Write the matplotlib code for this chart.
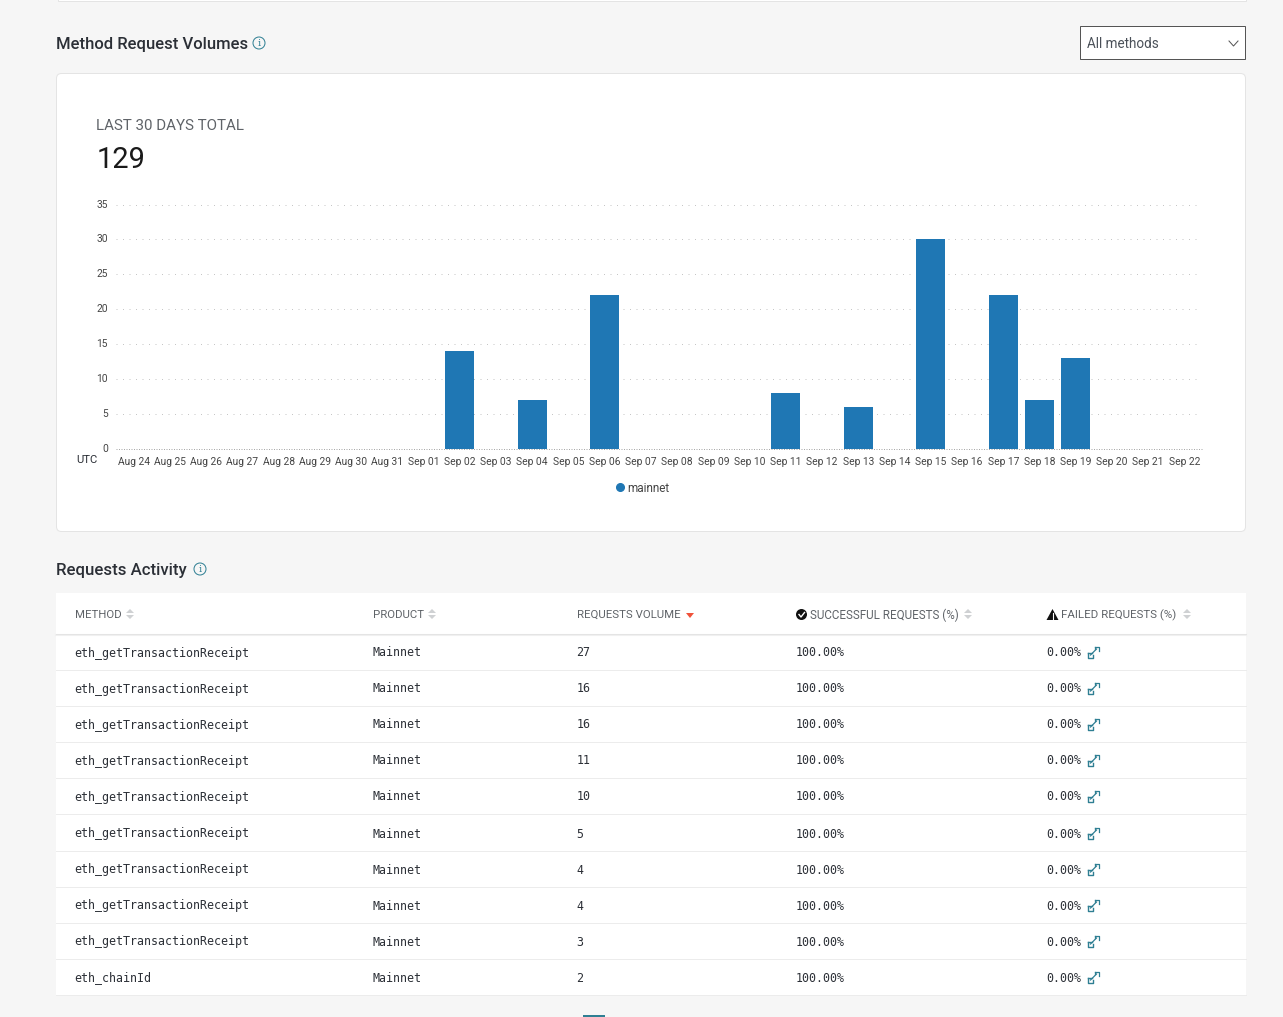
import matplotlib
matplotlib.use('Agg')
import matplotlib.pyplot as plt
from matplotlib.patches import Rectangle, FancyBboxPatch, Circle, Polygon
from matplotlib.lines import Line2D
from matplotlib.transforms import ScaledTranslation

W, H = 1283, 1017

# chart data
days = ['Aug 24', 'Aug 25', 'Aug 26', 'Aug 27', 'Aug 28', 'Aug 29', 'Aug 30', 'Aug 31',
        'Sep 01', 'Sep 02', 'Sep 03', 'Sep 04', 'Sep 05', 'Sep 06', 'Sep 07', 'Sep 08',
        'Sep 09', 'Sep 10', 'Sep 11', 'Sep 12', 'Sep 13', 'Sep 14', 'Sep 15', 'Sep 16',
        'Sep 17', 'Sep 18', 'Sep 19', 'Sep 20', 'Sep 21', 'Sep 22']
mainnet = [0, 0, 0, 0, 0, 0, 0, 0, 0, 14, 0, 7, 0, 22, 0, 0, 0, 0, 8, 0, 6, 0, 30, 0, 22, 7, 13, 0, 0, 0]
y_ticks = [0, 5, 10, 15, 20, 25, 30, 35]

# table data
methods = ['eth_getTransactionReceipt'] * 9 + ['eth_chainId']
products = ['Mainnet'] * 10
volumes = [27, 16, 16, 11, 10, 5, 4, 4, 3, 2]
success = ['100.00%'] * 10
failed = ['0.00%'] * 10
row_y = [653, 689, 725, 761, 797, 834, 870, 906, 942, 978]

SANS = 'Roboto'
MONO = 'DejaVu Sans Mono'
DARK = '#2b2f36'
GREY = '#5f6368'
TEAL = '#2f7f93'
BLUE = '#1f77b4'
LW = 0.72  # one pixel


def px(size):
    return size * 0.72


fig = plt.figure(figsize=(W / 100, H / 100), dpi=100, facecolor='#f6f6f6')

# page layer, in pixels
bg = fig.add_axes([0, 0, 1, 1], zorder=0)
bg.set_xlim(0, W)
bg.set_ylim(H, 0)
bg.axis('off')


def info_icon(x, y):
    bg.add_patch(Circle((x, y), 6, fc='none', ec=TEAL, lw=LW))
    bg.text(x, y + 0.3, 'i', color=TEAL, fontsize=px(10), family='DejaVu Serif', ha='center', va='center')


def sort_icon(x, y):
    bg.add_patch(Polygon([(x - 4, y - 1), (x + 4, y - 1), (x, y - 5)], fc='#cfd1d3', ec='none'))
    bg.add_patch(Polygon([(x - 4, y + 1), (x + 4, y + 1), (x, y + 5)], fc='#cfd1d3', ec='none'))


def expand_icon(x, y):
    bg.plot([x - 3, x + 3], [y + 3, y - 3], color=TEAL, lw=0.9)
    bg.plot([x - 5.5, x - 5.5, x - 1, x - 1], [y + 1, y + 5.5, y + 5.5, y + 3], color=TEAL, lw=1)
    bg.plot([x - 5.5, x - 2], [y + 1, y + 1], color=TEAL, lw=1)
    bg.plot([x + 1, x + 5.5, x + 5.5], [y - 5.5, y - 5.5, y - 1], color=TEAL, lw=0.9)
    bg.plot([x + 1, x + 1], [y - 5.5, y - 3], color=TEAL, lw=0.9)


# strip at the very top
bg.add_patch(Rectangle((58, -3), 1188, 3.5, fc='#ffffff', ec='#e4e4e4', lw=LW))

# headings
bg.text(56, 44, 'Method Request Volumes', fontsize=px(16.6), family=SANS, weight='medium', color=DARK, va='center')
info_icon(259, 43)
bg.text(56, 570, 'Requests Activity', fontsize=px(16.8), family=SANS, weight='medium', color=DARK, va='center')
info_icon(200, 569)

# dropdown
bg.add_patch(Rectangle((1080, 26), 165, 33, fc='white', ec='#555555', lw=LW))
bg.text(1087, 43.5, 'All methods', fontsize=px(13.5), family=SANS, color='#4a5058', va='center')
bg.plot([1229, 1233.5, 1238], [41, 46, 41], color='#555555', lw=LW)

# chart card
bg.add_patch(FancyBboxPatch((56.5, 73.5), 1189, 458, boxstyle='round,pad=0,rounding_size=5',
                            fc='white', ec='#e4e4e4', lw=LW))
bg.text(96, 126, 'LAST 30 DAYS TOTAL', fontsize=px(15.1), family=SANS, color=GREY, va='center')
bg.text(96.7, 160, '129', fontsize=px(29), family=SANS, color='#1a1a1a', va='center')
bg.text(76, 460, 'UTC', fontsize=px(11.3), family=SANS, color=DARK, va='center')

# table body
bg.add_patch(Rectangle((56, 593), 1190, 402.5, fc='white', ec='none'))
bg.plot([56, 1246], [635, 635], color='#f0f0f0', lw=1.5)
bg.plot([56, 1246], [633.7, 633.7], color='#e4e4e4', lw=LW)
for sep in [669.5, 706, 742, 778, 814, 850.5, 886.5, 922.5, 959, 995]:
    bg.plot([56, 1246], [sep, sep], color='#ececec', lw=LW)

# table header
head_y = 615
for x, label in [(75, 'METHOD'), (373, 'PRODUCT'), (577, 'REQUESTS VOLUME')]:
    bg.text(x, head_y, label, fontsize=px(11.4), family=SANS, color=GREY, va='center')
bg.text(810, head_y, 'SUCCESSFUL REQUESTS (%)', fontsize=px(11.6), family=SANS, color=GREY, va='center')
bg.text(1061, head_y, 'FAILED REQUESTS (%)', fontsize=px(11.5), family=SANS, color=GREY, va='center')
sort_icon(130, 614)
sort_icon(432, 614)
sort_icon(968, 614)
sort_icon(1187, 614)
bg.add_patch(Polygon([(686, 613), (694, 613), (690, 618)], fc='#f0523a', ec='none'))
bg.add_patch(Circle((801.5, 614.5), 5.5, fc='#111111', ec='none'))
bg.plot([799, 801, 804.5], [614.5, 617, 612.5], color='white', lw=1)
bg.add_patch(Polygon([(1046.5, 620), (1058.5, 620), (1052.5, 609)], fc='#111111', ec='none'))
bg.plot([1052.5, 1052.5], [613, 616.5], color='white', lw=0.8)
bg.plot([1052.5, 1052.5], [617.5, 618.5], color='white', lw=0.8)

# table rows
for i, y in enumerate(row_y):
    bg.text(74.5, y, methods[i], fontsize=px(11.6), family=MONO, color=DARK, va='center')
    bg.text(372.5, y, products[i], fontsize=px(11.6), family=MONO, color=DARK, va='center')
    bg.text(576.5, y, str(volumes[i]), fontsize=px(11.6), family=MONO, color=DARK, va='center')
    bg.text(795.5, y, success[i], fontsize=px(11.6), family=MONO, color=DARK, va='center')
    bg.text(1046.5, y, failed[i], fontsize=px(11.6), family=MONO, color=DARK, va='center')
    expand_icon(1093.5, y - 1)

# bit of the pager under the table
bg.add_patch(Rectangle((583, 1015), 22, 3, fc=TEAL, ec='none'))

# bar chart
left, right, top, bottom = 115.5, 1202.5, 204.6, 448.5
ax = fig.add_axes([left / W, 1 - bottom / H, (right - left) / W, (bottom - top) / H], zorder=1)
ax.patch.set_alpha(0)
pos = list(range(len(days)))
ax.bar(pos, mainnet, width=0.8, color=BLUE, zorder=2, label='mainnet')
ax.set_xlim(-0.5, len(days) - 0.5)
ax.set_ylim(0, 35)
ax.set_yticks(y_ticks)
ax.set_xticks(pos)
ax.set_xticklabels(days)
ax.tick_params(axis='both', length=0, labelsize=px(10.3), labelcolor='#444444')
ax.tick_params(axis='x', pad=6.2)
ax.tick_params(axis='y', pad=5.4)
for lab in ax.get_xticklabels() + ax.get_yticklabels():
    lab.set_family(SANS)
up = ScaledTranslation(0, 1 / 100, fig.dpi_scale_trans)
for lab in ax.get_yticklabels():
    lab.set_transform(lab.get_transform() + up)
ax.hlines(y_ticks[1:], -0.5, 29.4, color='#c6c6c6', linestyle=(0, (1, 5.5)), linewidth=LW, zorder=0)
ax.hlines(0, -0.5, 29.5, color='#a8a8a8', linestyle=(0, (1, 1.5)), linewidth=LW, zorder=1, clip_on=False)
for name, spine in ax.spines.items():
    spine.set_visible(False)

handle = Line2D([], [], marker='o', linestyle='none', color=BLUE, markersize=5.5)
fig.legend([handle], ['mainnet'], loc='center', bbox_to_anchor=(642 / W, 1 - 488 / H), frameon=False,
           prop={'family': SANS, 'size': px(11.8)}, labelcolor='#444444', handlelength=1, handletextpad=0.1)

fig.savefig('out.png', dpi=100, facecolor=fig.get_facecolor())
